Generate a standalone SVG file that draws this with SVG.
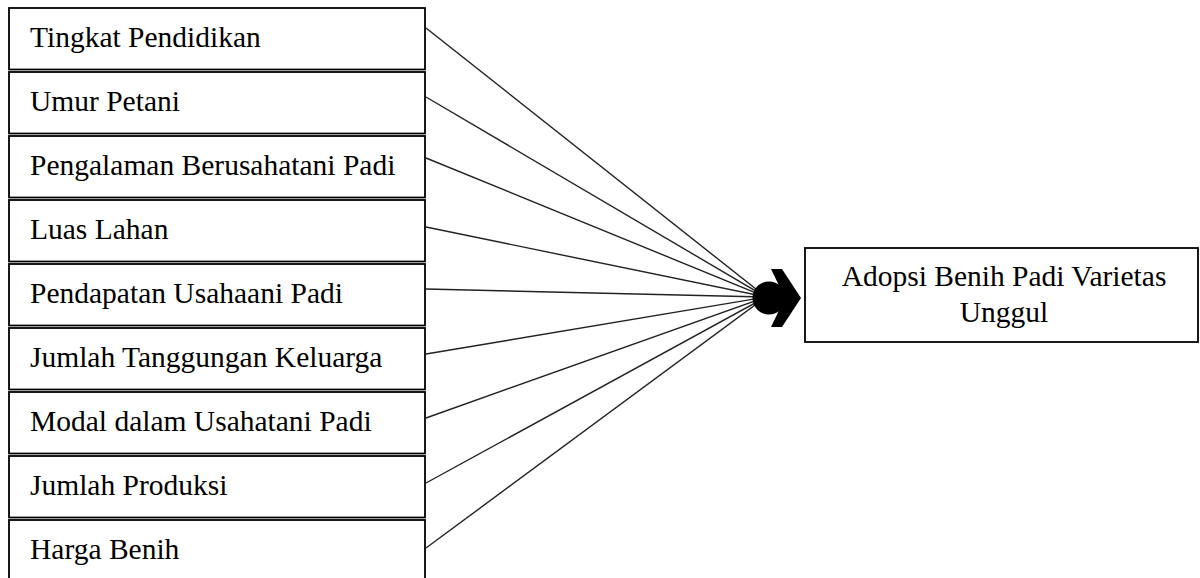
<svg xmlns="http://www.w3.org/2000/svg" width="1200" height="578" viewBox="0 0 1200 578">
<style>
.box{fill:#fff;stroke:#000;stroke-width:1.8}
.lbl{font-family:"Liberation Serif","Times New Roman",serif;font-size:29.5px;fill:#000}
.mid{text-anchor:middle}
.conn line{stroke:#222;stroke-width:1.4}
</style>
<rect width="1200" height="578" fill="#fff"/>
<g id="n1"><rect class="box" x="9" y="8" width="416" height="61.5"/><text class="lbl" x="30" y="47">Tingkat Pendidikan</text></g>
<g id="n2"><rect class="box" x="9" y="72" width="416" height="61.5"/><text class="lbl" x="30" y="111">Umur Petani</text></g>
<g id="n3"><rect class="box" x="9" y="136" width="416" height="61.5"/><text class="lbl" x="30" y="175">Pengalaman Berusahatani Padi</text></g>
<g id="n4"><rect class="box" x="9" y="200" width="416" height="61.5"/><text class="lbl" x="30" y="239">Luas Lahan</text></g>
<g id="n5"><rect class="box" x="9" y="264" width="416" height="61.5"/><text class="lbl" x="30" y="303">Pendapatan Usahaani Padi</text></g>
<g id="n6"><rect class="box" x="9" y="328" width="416" height="61.5"/><text class="lbl" x="30" y="367">Jumlah Tanggungan Keluarga</text></g>
<g id="n7"><rect class="box" x="9" y="392" width="416" height="61.5"/><text class="lbl" x="30" y="431">Modal dalam Usahatani Padi</text></g>
<g id="n8"><rect class="box" x="9" y="456" width="416" height="61.5"/><text class="lbl" x="30" y="495">Jumlah Produksi</text></g>
<g id="n9"><rect class="box" x="9" y="520" width="416" height="62"/><text class="lbl" x="30" y="559">Harga Benih</text></g>
<g id="target"><rect class="box" x="805" y="248" width="393" height="94"/><text class="lbl mid" x="1004" y="286">Adopsi Benih Padi Varietas</text><text class="lbl mid" x="1004" y="322">Unggul</text></g>
<g id="connectors" class="conn">
<line x1="426" y1="28" x2="766" y2="297"/>
<line x1="426" y1="97" x2="766" y2="297"/>
<line x1="426" y1="158" x2="766" y2="297"/>
<line x1="426" y1="227" x2="766" y2="297"/>
<line x1="426" y1="289" x2="766" y2="297"/>
<line x1="426" y1="354" x2="766" y2="297"/>
<line x1="426" y1="418" x2="766" y2="297"/>
<line x1="426" y1="483" x2="766" y2="297"/>
<line x1="426" y1="548" x2="766" y2="297"/>
<polygon points="771,269 782,269 801,298 782,327 771,327 785,298" fill="#000"/>
<circle cx="769" cy="298" r="16.5" fill="#000"/>
</g>
</svg>
